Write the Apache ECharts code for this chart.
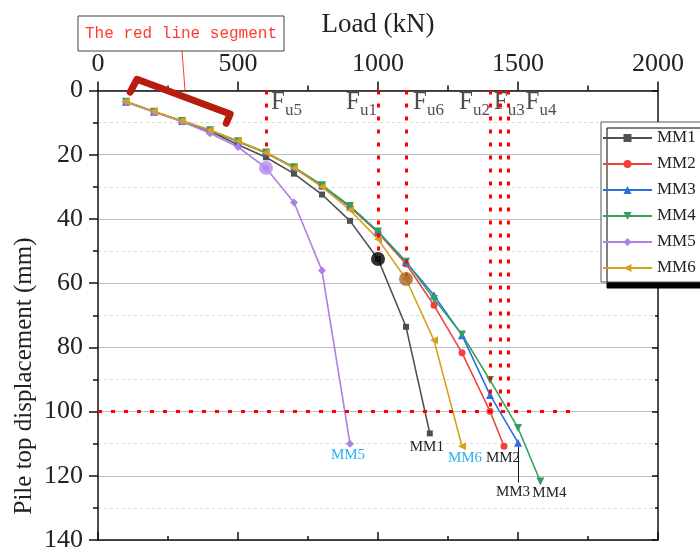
<!DOCTYPE html>
<html>
<head>
<meta charset="utf-8">
<script src="https://cdn.jsdelivr.net/npm/echarts@6/dist/echarts.min.js"></script>
<style>
  html, body { margin: 0; padding: 0; background: #fff; }
  #chart { width: 700px; height: 553px; }
</style>
</head>
<body>
<div id="chart"></div>
<script>
// ---- Load (kN) / pile top displacement (mm) for each pile test ----
const MM1_LOAD = [100, 200, 300, 400, 500, 600, 700, 800, 900, 1000, 1100, 1185];
const MM1_DISP = [3.5, 6.6, 9.5, 12.7, 16.9, 20.8, 25.9, 32.4, 40.6, 52.5, 73.6, 106.8];

const MM2_LOAD = [100, 200, 300, 400, 500, 600, 700, 800, 900, 1000, 1100, 1200, 1300, 1400, 1450];
const MM2_DISP = [3.5, 6.6, 9.5, 12.4, 15.9, 19.5, 24.1, 29.8, 36.3, 44.2, 54.0, 66.9, 81.7, 99.9, 110.8];

const MM3_LOAD = [100, 200, 300, 400, 500, 600, 700, 800, 900, 1000, 1100, 1200, 1300, 1400, 1500];
const MM3_DISP = [3.5, 6.6, 9.5, 12.4, 15.9, 19.4, 24.0, 29.6, 36.1, 44.0, 53.4, 63.8, 76.2, 94.8, 109.7];

const MM4_LOAD = [100, 200, 300, 400, 500, 600, 700, 800, 900, 1000, 1100, 1200, 1300, 1400, 1500, 1580];
const MM4_DISP = [3.5, 6.6, 9.5, 12.4, 15.8, 19.3, 23.9, 29.5, 36.0, 43.9, 53.3, 64.9, 76.0, 90.2, 105.1, 121.8];

const MM5_LOAD = [100, 200, 300, 400, 500, 600, 700, 800, 900];
const MM5_DISP = [3.6, 6.7, 9.7, 13.3, 17.6, 24.1, 34.9, 56.1, 110.0];

const MM6_LOAD = [100, 200, 300, 400, 500, 600, 700, 800, 900, 1000, 1100, 1200, 1300];
const MM6_DISP = [3.4, 6.5, 9.4, 12.3, 15.7, 19.4, 24.1, 30.0, 37.2, 46.3, 58.7, 77.8, 110.8];

// Ultimate loads Fu1..Fu6 (kN) and the displacement each guide line runs down to (mm)
const FU_NAMES = ['u1', 'u2', 'u3', 'u4', 'u5', 'u6'];
const FU_LOADS = [1000, 1400, 1435, 1466, 600, 1100];
const FU_DEPTH = [52.5, 100, 100, 100, 20.5, 58.7];

// Displacement criterion line (mm) and its extent (kN)
const LIMIT_DISP = 100;
const LIMIT_END_LOAD = 1710;

// Axis ranges and tick steps
const X_MIN = 0, X_MAX = 2000, X_STEP = 500;
const Y_MIN = 0, Y_MAX = 140, Y_STEP = 20;

// Outline of the highlighted initial segment (kN, mm)
const SEGMENT_LOAD = [115, 139, 472, 458];
const SEGMENT_DISP = [0.5, -3.5, 7.3, 10.2];

const SERIF = 'Liberation Serif';
const MONO = 'Liberation Mono';
const INK = '#222';

const chart = echarts.init(document.getElementById('chart'), null, { renderer: 'canvas' });

function pairs(xs, ys) {
  return xs.map((x, i) => [x, ys[i]]);
}

function curve(name, loads, disps, color, symbol, symbolSize, endLabel) {
  const data = pairs(loads, disps).map((p, i, arr) => {
    if (i !== arr.length - 1) return p;
    return {
      value: p,
      label: {
        show: true,
        position: 'inside',
        formatter: name,
        offset: endLabel.offset,
        color: endLabel.color,
        fontFamily: SERIF,
        fontSize: 15
      }
    };
  });
  return {
    name: name,
    type: 'line',
    data: data,
    symbol: symbol,
    symbolSize: symbolSize,
    showAllSymbol: true,
    lineStyle: { color: color, width: 1.6 },
    itemStyle: { color: color },
    emphasis: { disabled: true },
    animation: false
  };
}

const TRI_DOWN = 'path://M0,0L10,0L5,9Z';
const TRI_LEFT = 'path://M0,5L9,0L9,10Z';

const seriesList = [
  curve('MM1', MM1_LOAD, MM1_DISP, '#505050', 'rect', 6, { offset: [-3, 14], color: INK }),
  curve('MM2', MM2_LOAD, MM2_DISP, '#f0423c', 'circle', 7, { offset: [-1, 12], color: INK }),
  curve('MM3', MM3_LOAD, MM3_DISP, '#2a6fdc', 'triangle', 8, { offset: [-5, 49], color: INK }),
  curve('MM4', MM4_LOAD, MM4_DISP, '#34a060', TRI_DOWN, 8, { offset: [9, 11], color: INK }),
  curve('MM5', MM5_LOAD, MM5_DISP, '#ad80e4', 'diamond', 8, { offset: [-2, 11], color: '#2ab2ee' }),
  curve('MM6', MM6_LOAD, MM6_DISP, '#d6a21e', TRI_LEFT, 8, { offset: [3, 12], color: '#2ab2ee' })
];

// leader from the MM3 end point down to its label
const mm3Last = [MM3_LOAD[MM3_LOAD.length - 1], MM3_DISP[MM3_DISP.length - 1]];
seriesList[2].markLine = {
  silent: true,
  symbol: ['none', 'none'],
  label: { show: false },
  animation: false,
  lineStyle: { color: '#111', width: 1, type: 'solid' },
  data: [[{ coord: [mm3Last[0], mm3Last[1] + 1.3] }, { coord: [mm3Last[0], mm3Last[1] + 12.4] }]]
};

// Fu guide lines, the 100 mm criterion line and the Fu labels
const fuLines = FU_LOADS.map((f, i) => [{ coord: [f, Y_MIN] }, { coord: [f, FU_DEPTH[i]] }]);
fuLines.push([{ coord: [X_MIN, LIMIT_DISP] }, { coord: [LIMIT_END_LOAD, LIMIT_DISP] }]);

// label placement: side of the guide line and pixel nudge
const FU_LABEL_SIDE = ['right', 'right', 'left', 'left', 'left', 'left'];
const FU_LABEL_NUDGE = [-1, 0, -6, 17, 5, 7];
const FU_LABEL_DISP = 3.6;

seriesList.push({
  name: 'Fu',
  type: 'scatter',
  symbolSize: 0,
  silent: true,
  animation: false,
  data: FU_LOADS.map((f, i) => ({
    value: [f, FU_LABEL_DISP],
    label: {
      show: true,
      position: 'inside',
      align: FU_LABEL_SIDE[i],
      verticalAlign: 'middle',
      offset: [FU_LABEL_NUDGE[i], 0],
      formatter: '{f|F}{s|' + FU_NAMES[i] + '}',
      rich: {
        f: { fontFamily: SERIF, fontSize: 25, color: INK, lineHeight: 26 },
        // top padding pushes the subscript below the F baseline
        s: { fontFamily: SERIF, fontSize: 17, color: INK, lineHeight: 17, padding: [16, 0, 0, 0] }
      }
    }
  })),
  markLine: {
    silent: true,
    symbol: ['none', 'none'],
    label: { show: false },
    animation: false,
    lineStyle: { color: '#ff0000', width: 3, type: [4, 9] },
    data: fuLines
  },
  z: 1
});

// ultimate-load points on MM5, MM1 and MM6
seriesList.push({
  name: 'Ultimate',
  type: 'scatter',
  silent: true,
  animation: false,
  symbol: 'circle',
  symbolSize: 14,
  z: 5,
  data: [
    { value: [MM5_LOAD[5], MM5_DISP[5]], itemStyle: { color: '#b48cf0' } },
    { value: [MM1_LOAD[9], MM1_DISP[9]], itemStyle: { color: '#000000' } },
    { value: [MM6_LOAD[10], MM6_DISP[10]], itemStyle: { color: '#a56a27' } }
  ]
});

// highlighted initial segment
seriesList.push({
  name: 'Segment',
  type: 'line',
  silent: true,
  animation: false,
  clip: false,
  symbol: 'none',
  z: 6,
  lineStyle: { color: '#b71c0c', width: 7, cap: 'round', join: 'round' },
  data: pairs(SEGMENT_LOAD, SEGMENT_DISP)
});

const axisLineStyle = { color: '#111', width: 1.5 };

const option = {
  backgroundColor: '#fff',
  animation: false,
  grid: { left: 98, top: 90.5, width: 560, height: 452, containLabel: false },
  legend: {
    data: ['MM1', 'MM2', 'MM3', 'MM4', 'MM5', 'MM6'],
    orient: 'vertical',
    left: 601,
    top: 122,
    padding: [6, 12, 4, 1],
    itemWidth: 49,
    itemHeight: 10,
    itemGap: 6,
    selectedMode: false,
    backgroundColor: '#fff',
    borderColor: '#555',
    borderWidth: 1,
    shadowColor: '#000',
    shadowBlur: 0,
    shadowOffsetX: 6,
    shadowOffsetY: 6,
    textStyle: { fontFamily: SERIF, fontSize: 17, color: INK, lineHeight: 20 }
  },
  xAxis: [
    {
      type: 'value', position: 'top', min: X_MIN, max: X_MAX, interval: X_STEP,
      name: 'Load (kN)', nameLocation: 'middle', nameGap: 52,
      nameTextStyle: { fontFamily: SERIF, fontSize: 27, color: INK },
      axisLine: { show: true, onZero: false, lineStyle: axisLineStyle },
      axisTick: { show: true, length: 9, lineStyle: axisLineStyle },
      minorTick: { show: true, splitNumber: 2, length: 5, lineStyle: axisLineStyle },
      axisLabel: { fontFamily: SERIF, fontSize: 26, color: INK, margin: 13, formatter: v => String(v) },
      splitLine: { show: false }
    },
    {
      type: 'value', position: 'bottom', min: X_MIN, max: X_MAX, interval: X_STEP,
      axisLine: { show: true, onZero: false, lineStyle: axisLineStyle },
      axisTick: { show: true, inside: true, length: 8, lineStyle: axisLineStyle },
      minorTick: { show: true, splitNumber: 2, length: 4, lineStyle: axisLineStyle },
      axisLabel: { show: false },
      splitLine: { show: false }
    }
  ],
  yAxis: [
    {
      type: 'value', inverse: true, position: 'left', min: Y_MIN, max: Y_MAX, interval: Y_STEP,
      axisLine: { show: true, onZero: false, lineStyle: axisLineStyle },
      axisTick: { show: true, length: 9, lineStyle: axisLineStyle },
      minorTick: { show: true, splitNumber: 2, length: 5, lineStyle: axisLineStyle },
      axisLabel: { fontFamily: SERIF, fontSize: 26, color: INK, margin: 15, formatter: v => String(v) },
      splitLine: { show: true, lineStyle: { color: '#bdbdbd', width: 1 } },
      minorSplitLine: { show: true, lineStyle: { color: '#dcdcdc', width: 1, type: [3, 3] } }
    },
    {
      type: 'value', inverse: true, position: 'right', min: Y_MIN, max: Y_MAX, interval: Y_STEP,
      axisLine: { show: true, onZero: false, lineStyle: axisLineStyle },
      axisTick: { show: true, inside: true, length: 6, lineStyle: axisLineStyle },
      minorTick: { show: true, splitNumber: 2, length: 3, lineStyle: axisLineStyle },
      axisLabel: { show: false },
      splitLine: { show: false }
    }
  ],
  graphic: [
    {
      type: 'text', x: 24, y: 376, rotation: Math.PI / 2,
      style: {
        text: 'Pile top displacement (mm)', fill: INK,
        font: '25px "' + SERIF + '"', align: 'center', verticalAlign: 'middle'
      }
    },
    {
      type: 'line', shape: { x1: 182, y1: 51, x2: 185, y2: 90 },
      style: { stroke: '#ff3b30', lineWidth: 1 }, z: 10
    },
    {
      type: 'rect', shape: { x: 78, y: 16, width: 206, height: 35 },
      style: { fill: '#fff', stroke: '#444', lineWidth: 1 }, z: 10
    },
    {
      type: 'text', x: 181, y: 34, z: 11,
      style: {
        text: 'The red line segment', fill: '#ff3b30',
        font: '16px "' + MONO + '"', align: 'center', verticalAlign: 'middle'
      }
    }
  ],
  series: seriesList
};

chart.setOption(option);
</script>
</body>
</html>
